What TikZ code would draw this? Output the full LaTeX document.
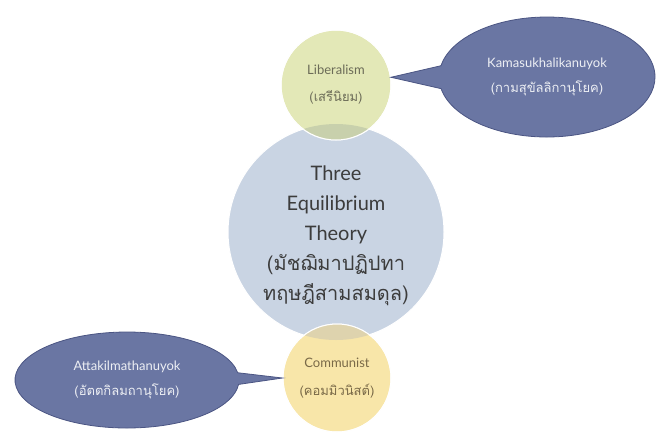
\documentclass[tikz,border=0pt]{standalone}
\usepackage{fontspec}
\setmainfont{Lato}
\newfontfamily\thai[Script=Thai]{Loma}
\usetikzlibrary{shapes.callouts}

\definecolor{ctrfill}{HTML}{C9D4E3}
\definecolor{libfill}{HTML}{E3E8B7}
\definecolor{comfill}{HTML}{F8E6A9}
\definecolor{libmix}{HTML}{C8D0AC}
\definecolor{commix}{HTML}{DED3AE}
\definecolor{bubblefill}{HTML}{6A76A3}
\definecolor{bubbleedge}{HTML}{4B5583}
\definecolor{ctrtext}{HTML}{3C3C3C}
\definecolor{libtext}{HTML}{6C6C58}
\definecolor{comtext}{HTML}{7A6A48}

\begin{document}
\begin{tikzpicture}[
		x=1pt,y=-1pt,
		ball/.style={circle,draw=white,line width=1pt,align=center},
		bubble/.style={ellipse callout,draw=bubbleedge,fill=bubblefill,line width=0.8pt,
			text=white!88!bubblefill,align=center,font=\fontsize{13}{25}\selectfont}
		]
		\useasboundingbox (0,0) rectangle (660,437);
		% the three circles
		\node[ball,fill=ctrfill,minimum size=216pt] (ctr) at (336,232) {};
		\node[text=ctrtext,align=center,font=\fontsize{20}{30}\selectfont] (ctrtxt) at (336,236)
			{Three\\Equilibrium\\Theory\\{\thai (มัชฌิมาปฏิปทา}\\{\thai ทฤษฎีสามสมดุล)}};
		\node[ball,fill=libfill,minimum size=110pt,text=libtext,font=\fontsize{13}{27}\selectfont] (lib) at (336,85)
			{Liberalism\\{\thai (เสรีนิยม)}};
		\node[ball,fill=comfill,minimum size=108pt,text=comtext,font=\fontsize{13}{28}\selectfont] (com) at (337,378)
			{Communist\\{\thai (คอมมิวนิสต์)}};
		% overlaps
		\begin{scope}
			\clip (ctr.center) circle[radius=108];
			\fill[libmix] (lib.center) circle[radius=55];
			\fill[commix] (com.center) circle[radius=54];
		\end{scope}
		\draw[white,line width=1pt] (lib.center) circle[radius=55] (com.center) circle[radius=54];
		% speech bubbles
		\node[bubble,minimum width=216pt,minimum height=120pt,callout absolute pointer={(lib.8)},callout pointer arc=22] (kama) at (547,77)
			{Kamasukhalikanuyok\\{\thai (กามสุขัลลิกานุโยค)}};
		\node[bubble,minimum width=224pt,minimum height=96pt,callout absolute pointer={(com.west)},callout pointer arc=14] (atta) at (127,380)
			{Attakilmathanuyok\\{\thai (อัตตกิลมถานุโยค)}};
	\end{tikzpicture}
\end{document}
